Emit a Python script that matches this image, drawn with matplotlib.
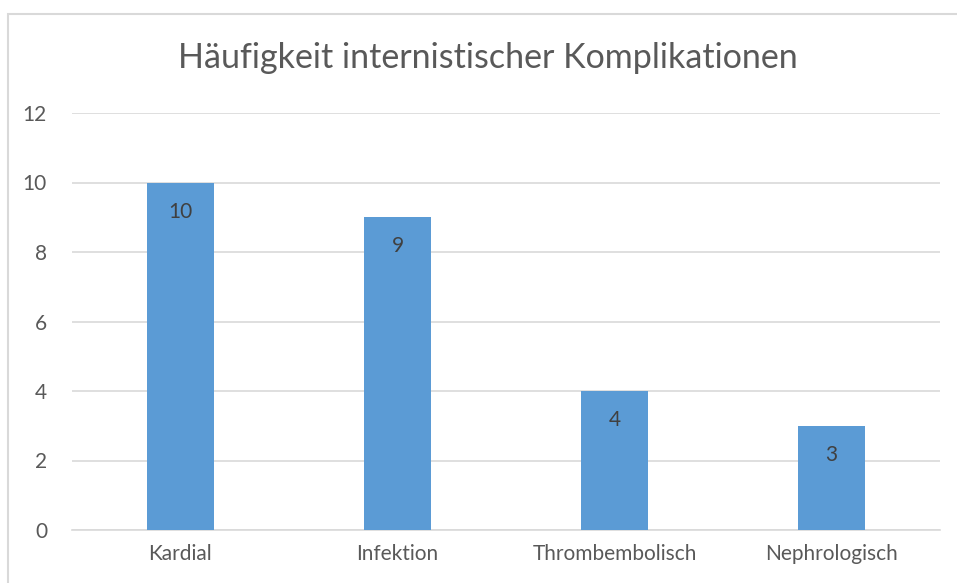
import matplotlib
matplotlib.use('Agg')
import matplotlib.pyplot as plt
from matplotlib.patches import Rectangle

categories = ["Kardial", "Infektion", "Thrombembolisch", "Nephrologisch"]
values = [10, 9, 4, 3]
yticks = [0, 2, 4, 6, 8, 10, 12]

text_color = "#595959"
bar_color = "#5B9BD5"
grid_color = "#D9D9D9"

plt.rcParams['font.family'] = ['Lato', 'DejaVu Sans']

fig = plt.figure(figsize=(9.57, 5.83), dpi=100)
# outer chart frame (runs off the right and bottom edge)
fig.patches.append(Rectangle((8 / 957, -0.05), 1.05, 1 - 14 / 583 + 0.05,
                             transform=fig.transFigure, fill=False,
                             edgecolor=grid_color, linewidth=1.5))

ax = fig.add_axes([72 / 957, 1 - 530 / 583, 868 / 957, 417 / 583])
x = range(len(categories))
bars = ax.bar(x, values, width=0.313, color=bar_color, zorder=3)

for b, v in zip(bars, values):
    ax.annotate(str(v), (b.get_x() + b.get_width() / 2, v),
                xytext=(0, -29), textcoords="offset pixels",
                ha="center", va="center", fontsize=15, color="#404040", zorder=4)

ax.set_xlim(-0.5, len(categories) - 0.5)
ax.set_ylim(0, 12)
ax.set_yticks(yticks)
ax.set_xticks(list(x))
ax.set_xticklabels(categories)
ax.yaxis.grid(True, color=grid_color, linewidth=1.2, zorder=0)
for s in ["top", "right", "left"]:
    ax.spines[s].set_visible(False)
ax.spines["bottom"].set_color(grid_color)
ax.spines["bottom"].set_linewidth(1.2)
ax.tick_params(length=0, labelsize=15, colors=text_color)
ax.tick_params(axis="y", pad=18)
ax.tick_params(axis="x", pad=10)

fig.text(488 / 957, 1 - 58 / 583, "Häufigkeit internistischer Komplikationen",
         ha="center", va="center", fontsize=24.5, color=text_color)

plt.savefig("out.png", dpi=100)
